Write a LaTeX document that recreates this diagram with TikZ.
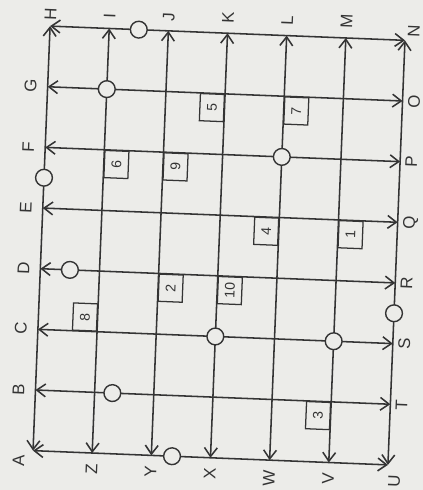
\documentclass[tikz,border=0pt]{standalone}
\usepackage{fontspec}
\setmainfont{Liberation Sans}
\usetikzlibrary{arrows.meta,positioning}
\definecolor{paper}{RGB}{236,236,233}
\definecolor{ink}{RGB}{52,52,52}
\newcommand{\rottext}[1]{\rotatebox{90}{#1}}
\tikzset{
  road/.style={<->, draw=ink, line width=1.1pt},
  lbl/.style={inner sep=0pt, text=ink, font=\large},
  junction/.style={circle, draw=ink, fill=paper, line width=1pt, minimum size=0.42cm, inner sep=0pt},
  numbox/.style={draw=ink, fill=paper, line width=0.9pt, minimum width=0.6cm, minimum height=0.68cm, inner sep=0pt, text=ink, font=\normalsize}
}

\begin{document}
\begin{tikzpicture}[x=1.48cm, y=1.5175cm, >={Straight Barb[length=2.2mm,width=3.2mm]}]
    \fill[paper] (-5.475cm,-6.1125cm) rectangle (5.1cm,6.1375cm);
    \useasboundingbox (-5.475cm,-6.1125cm) rectangle (5.1cm,6.1375cm);
\begin{scope}[rotate=-2.3, transform shape]
    % corners
    \coordinate (A) at (-3,-3.5);
    \coordinate (H) at (-3,3.5);
    \coordinate (N) at (3,3.5);
    \coordinate (U) at (3,-3.5);
    % ends of the rows
    \foreach \lt/\rt [count=\i] in {G/O,F/P,E/Q,D/R,C/S,B/T} {
        \coordinate (\lt) at (-3,3.5-\i);
        \coordinate (\rt) at (3,3.5-\i);
    }
    % ends of the columns
    \foreach \tp/\bt [count=\i] in {I/Z,J/Y,K/X,L/W,M/V} {
        \coordinate (\tp) at (-3+\i,3.5);
        \coordinate (\bt) at (-3+\i,-3.5);
    }
    \draw[road] (A)--(H);
    \draw[road] (H)--(N);
    \draw[road] (N)--(U);
    \draw[road] (U)--(A);
    \foreach \lt/\rt in {G/O,F/P,E/Q,D/R,C/S,B/T}
        \draw[road] (\lt)--(\rt);
    \foreach \tp/\bt in {I/Z,J/Y,K/X,L/W,M/V}
        \draw[road] (\tp)--(\bt);
    % letters
    \foreach \p in {G,F,E,D,C,B}
        \node[lbl, left=0.27cm of \p] (l\p) {\rottext{\p}};
    \foreach \p in {O,P,Q,R,S,T}
        \node[lbl, right=0.13cm of \p] (l\p) {\rottext{\p}};
    \foreach \p in {I,J,K,L,M}
        \node[lbl, above=0.24cm of \p] (l\p) {\rottext{\p}};
    \foreach \p in {Z,Y,X,W,V}
        \node[lbl, below=0.26cm of \p] (l\p) {\rottext{\p}};
    \node[lbl, above=0.14cm of H] (lH) {\rottext{H}};
    \node[lbl, above right=0.08cm and 0.06cm of N] (lN) {\rottext{N}};
    \node[lbl, below left=0.12cm and 0.2cm of A] (lA) {\rottext{A}};
    \node[lbl, below right=0.25cm and 0.02cm of U] (lU) {\rottext{U}};
    % circles
    \node[junction] (c1) at (-1.5,3.5) {};
    \node[junction] (c2) at (-2,2.5) {};
    \node[junction] (c3) at (-3,1) {};
    \node[junction] (c4) at (-2.5,-0.5) {};
    \node[junction] (c5) at (-1.7,-2.5) {};
    \node[junction] (c6) at (-0.65,-3.5) {};
    \node[junction] (c7) at (0,-1.5) {};
    \node[junction] (c8) at (1,1.5) {};
    \node[junction] (c9) at (2,-1.5) {};
    \node[junction] (c10) at (3,-1) {};
    % numbered boxes
    \node[numbox, anchor=north west] (n6) at (-2,1.5) {\rottext{6}};
    \node[numbox, anchor=north west] (n9) at (-1,1.5) {\rottext{9}};
    \node[numbox, anchor=north east] (n5) at (0,2.5) {\rottext{5}};
    \node[numbox, anchor=north west] (n7) at (1,2.5) {\rottext{7}};
    \node[numbox, anchor=north east] (n4) at (1,0.5) {\rottext{4}};
    \node[numbox, anchor=north west] (n1) at (2,0.5) {\rottext{1}};
    \node[numbox, anchor=north west] (n2) at (-1,-0.5) {\rottext{2}};
    \node[numbox, anchor=north west] (n10) at (0,-0.5) {\rottext{10}};
    \node[numbox, anchor=south east] (n8) at (-2,-1.5) {\rottext{8}};
    \node[numbox, anchor=north east] (n3) at (2,-2.5) {\rottext{3}};
\end{scope}
\end{tikzpicture}
\end{document}
